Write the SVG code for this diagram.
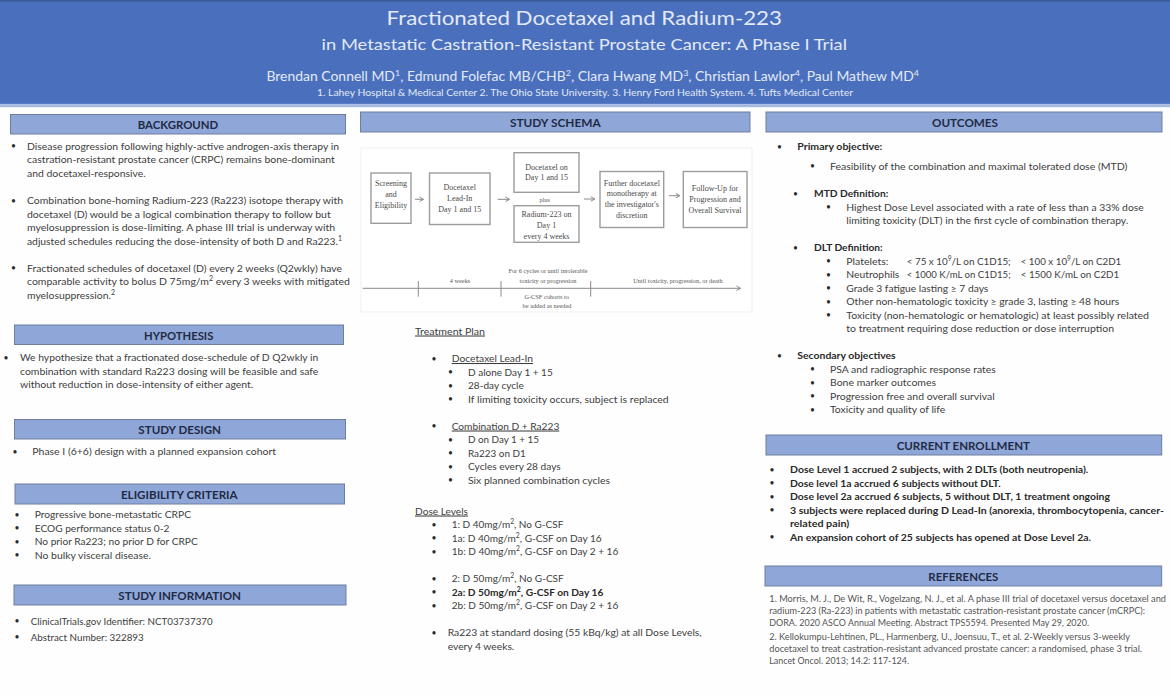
<svg xmlns="http://www.w3.org/2000/svg" width="1170" height="695" viewBox="0 0 1170 695">
<style>
text{font-family:Lato,"Open Sans","Liberation Sans",sans-serif}
.t{font-size:10.4px;fill:#3d3d3d}
.b{font-size:10.2px;fill:#2a2a2a;font-weight:700}
.p{font-size:8.5px;fill:#2a2a2a}
.r{font-size:9.5px;fill:#555}
.h{font-size:12px;font-weight:700;fill:#1f2a44;text-anchor:middle}
.w{fill:#e3e9f6;text-anchor:middle}
.u{text-decoration:underline}
.s{font-size:7px}
.bar{fill:#8fa7d8;stroke:#6f7d9e;stroke-width:1}
.box{fill:#fff;stroke:#9c9c9c;stroke-width:1.4}
.f{font-family:"Liberation Serif",serif;font-size:8px;fill:#4a4a4a;text-anchor:middle}
.g{font-family:"Liberation Serif",serif;font-size:6.3px;fill:#555;text-anchor:middle}
.c{stroke:#8a8a8a;stroke-width:1;fill:none}
</style>
<defs><marker id="a" markerWidth="6" markerHeight="6" refX="5" refY="3" orient="auto" markerUnits="userSpaceOnUse"><path d="M1 .8L5 3L1 5.2" fill="none" stroke="#8a8a8a" stroke-width="1"/></marker></defs>
<rect width="1170" height="695" fill="#fefefe"/>
<g id="header">
<rect width="1170" height="103" fill="#4a70bd"/>
<rect width="1170" height="1.5" fill="#3a5a9c"/>
<rect y="103" width="1170" height="1.2" fill="#5b7cc4"/>
<rect y="104.2" width="1170" height="3" fill="#a4b8e0"/>
<text class="w" x="584.3" y="24.5" font-size="20" textLength="395.4" lengthAdjust="spacingAndGlyphs">Fractionated Docetaxel and Radium-223</text>
<text class="w" x="584.3" y="50" font-size="16" textLength="525.4" lengthAdjust="spacingAndGlyphs">in Metastatic Castration-Resistant Prostate Cancer: A Phase I Trial</text>
<text class="w" x="592.7" y="81" font-size="12.5" textLength="652.6" lengthAdjust="spacingAndGlyphs">Brendan Connell MD<tspan font-size="8" dy="-5">1</tspan><tspan dy="5">, Edmund Folefac MB/CHB</tspan><tspan font-size="8" dy="-5">2</tspan><tspan dy="5">, Clara Hwang MD</tspan><tspan font-size="8" dy="-5">3</tspan><tspan dy="5">, Christian Lawlor</tspan><tspan font-size="8" dy="-5">4</tspan><tspan dy="5">, Paul Mathew MD</tspan><tspan font-size="8" dy="-5">4</tspan></text>
<text class="w" x="585" y="95.5" font-size="9.5" textLength="536" lengthAdjust="spacingAndGlyphs">1. Lahey Hospital &amp; Medical Center 2. The Ohio State University. 3. Henry Ford Health System. 4. Tufts Medical Center</text>
</g>
<g id="background">
<rect class="bar" x="10.5" y="114.5" width="335" height="19.5"/>
<text class="h" x="178" y="129" textLength="80.6" lengthAdjust="spacingAndGlyphs">BACKGROUND</text>
<text class="p" x="11" y="149">•</text><text class="t" x="27" y="149.5" textLength="312" lengthAdjust="spacingAndGlyphs">Disease progression following highly-active androgen-axis therapy in</text>
<text class="t" x="27" y="163" textLength="307.7" lengthAdjust="spacingAndGlyphs">castration-resistant prostate cancer (CRPC) remains bone-dominant</text>
<text class="t" x="27" y="176.5" textLength="118.7" lengthAdjust="spacingAndGlyphs">and docetaxel-responsive.</text>
<text class="p" x="11" y="203.5">•</text><text class="t" x="27" y="204" textLength="316" lengthAdjust="spacingAndGlyphs">Combination bone-homing Radium-223 (Ra223) isotope therapy with</text>
<text class="t" x="27" y="217.5" textLength="303.7" lengthAdjust="spacingAndGlyphs">docetaxel (D) would be a logical combination therapy to follow but</text>
<text class="t" x="27" y="231" textLength="308" lengthAdjust="spacingAndGlyphs">myelosuppression is dose-limiting. A phase III trial is underway with</text>
<text class="t" x="27" y="244.5" textLength="315" lengthAdjust="spacingAndGlyphs">adjusted schedules reducing the dose-intensity of both D and Ra223.<tspan class="s" dy="-4">1</tspan></text>
<text class="p" x="11" y="271">•</text><text class="t" x="27" y="271.5" textLength="315" lengthAdjust="spacingAndGlyphs">Fractionated schedules of docetaxel (D) every 2 weeks (Q2wkly) have</text>
<text class="t" x="27" y="285" textLength="323" lengthAdjust="spacingAndGlyphs">comparable activity to bolus D 75mg/m<tspan class="s" dy="-4">2</tspan><tspan dy="4">  every 3 weeks with mitigated</tspan></text>
<text class="t" x="27" y="298.5" textLength="88" lengthAdjust="spacingAndGlyphs">myelosuppression.<tspan class="s" dy="-4">2</tspan></text>
</g>
<g id="hypothesis">
<rect class="bar" x="14.5" y="325" width="329" height="19.5"/>
<text class="h" x="178.7" y="339.5" textLength="69.3" lengthAdjust="spacingAndGlyphs">HYPOTHESIS</text>
<text class="p" x="3.5" y="360.5">•</text><text class="t" x="20" y="361" textLength="298.3" lengthAdjust="spacingAndGlyphs">We hypothesize that a fractionated dose-schedule of D Q2wkly in</text>
<text class="t" x="20" y="374.5" textLength="298.3" lengthAdjust="spacingAndGlyphs">combination with standard Ra223 dosing will be feasible and safe</text>
<text class="t" x="20" y="388" textLength="233.3" lengthAdjust="spacingAndGlyphs">without reduction in dose-intensity of either agent.</text>
</g>
<g id="study-design">
<rect class="bar" x="14.5" y="419.5" width="331" height="19.5"/>
<text class="h" x="179.7" y="434" textLength="82.7" lengthAdjust="spacingAndGlyphs">STUDY DESIGN</text>
<text class="p" x="12.5" y="454.5">•</text><text class="t" x="32.3" y="455" textLength="243.7" lengthAdjust="spacingAndGlyphs">Phase I (6+6) design with a planned expansion cohort</text>
</g>
<g id="eligibility">
<rect class="bar" x="15" y="484" width="329.5" height="20"/>
<text class="h" x="179.3" y="498.5" textLength="116.7" lengthAdjust="spacingAndGlyphs">ELIGIBILITY CRITERIA</text>
<text class="p" x="14.5" y="517.5">•</text><text class="t" x="34.7" y="518" textLength="156.3" lengthAdjust="spacingAndGlyphs">Progressive bone-metastatic CRPC</text>
<text class="p" x="14.5" y="531">•</text><text class="t" x="34.7" y="531.5" textLength="134.6" lengthAdjust="spacingAndGlyphs">ECOG performance status 0-2</text>
<text class="p" x="14.5" y="544.5">•</text><text class="t" x="34.7" y="545" textLength="163" lengthAdjust="spacingAndGlyphs">No prior Ra223; no prior D for CRPC</text>
<text class="p" x="14.5" y="558">•</text><text class="t" x="34.7" y="558.5" textLength="116.3" lengthAdjust="spacingAndGlyphs">No bulky visceral disease.</text>
</g>
<g id="study-information">
<rect class="bar" x="14" y="585" width="332" height="20"/>
<text class="h" x="179.7" y="599.5" textLength="122.7" lengthAdjust="spacingAndGlyphs">STUDY INFORMATION</text>
<text class="p" x="14.5" y="624">•</text><text class="t" x="30.7" y="624.5" textLength="182" lengthAdjust="spacingAndGlyphs">ClinicalTrials.gov Identifier: NCT03737370</text>
<text class="p" x="14.5" y="640">•</text><text class="t" x="30.7" y="640.5" textLength="113" lengthAdjust="spacingAndGlyphs">Abstract Number: 322893</text>
</g>
<g id="study-schema">
<rect class="bar" x="360.5" y="112" width="389.5" height="20"/>
<text class="h" x="555.3" y="126.5" textLength="90.7" lengthAdjust="spacingAndGlyphs">STUDY SCHEMA</text>
<rect x="361" y="148" width="391" height="164" fill="#fff" stroke="#efefef"/>
</g>
<g id="node-screening"><rect class="box" x="371" y="173" width="40" height="50.3"/><text class="f" x="391" y="185.5">Screening</text><text class="f" x="391" y="196.5">and</text><text class="f" x="391" y="207.5">Eligibility</text></g>
<g id="node-leadin"><rect class="box" x="429.5" y="173" width="60.5" height="51.5"/><text class="f" x="459.7" y="190">Docetaxel</text><text class="f" x="459.7" y="201">Lead-In</text><text class="f" x="459.7" y="212">Day 1 and 15</text></g>
<g id="node-docetaxel"><rect class="box" x="514" y="152.7" width="65" height="39.6"/><text class="f" x="546.5" y="169.5">Docetaxel on</text><text class="f" x="546.5" y="180">Day 1 and 15</text></g>
<g id="node-plus"><text class="g" x="544.7" y="201.5">plus</text></g>
<g id="node-radium"><rect class="box" x="514" y="205.7" width="65" height="36.6"/><text class="f" x="546.5" y="216.5">Radium-223 on</text><text class="f" x="546.5" y="227.5">Day 1</text><text class="f" x="546.5" y="238.5">every 4 weeks</text></g>
<g id="node-further"><rect class="box" x="600" y="171.5" width="63.7" height="56"/><text class="f" x="631.8" y="185.5">Further docetaxel</text><text class="f" x="631.8" y="196.2">monotherapy at</text><text class="f" x="631.8" y="207">the investigator's</text><text class="f" x="631.8" y="218">discretion</text></g>
<g id="node-followup"><rect class="box" x="683.3" y="171.5" width="63.7" height="56"/><text class="f" x="715" y="191">Follow-Up for</text><text class="f" x="715" y="202">Progression and</text><text class="f" x="715" y="212.5">Overall Survival</text></g>
<g id="connectors">
<path class="c" marker-end="url(#a)" d="M415 199.3H423.5"/>
<path class="c" marker-end="url(#a)" d="M497.7 199.3H509.5"/>
<path class="c" marker-end="url(#a)" d="M584 199H594.8"/>
<path class="c" marker-end="url(#a)" d="M669 195.7H679.8"/>
<path class="c" marker-end="url(#a)" d="M362.7 288.3H740.5"/>
<path class="c" d="M418.3 281V296.7M501 281V296.7M590.7 281V296.7"/>
</g>
<g id="timeline-labels">
<text class="g" x="460" y="283.2">4 weeks</text>
<text class="g" x="548" y="273.3">For 6 cycles or until intolerable</text>
<text class="g" x="548" y="282.5">toxicity or progression</text>
<text class="g" x="546.7" y="299">G-CSF cohorts to</text>
<text class="g" x="547" y="308">be added as needed</text>
<text class="g" x="678" y="282.5">Until toxicity, progression, or death</text>
</g>
<g id="treatment-plan">
<text class="t u" x="415" y="334.5" textLength="70" lengthAdjust="spacingAndGlyphs">Treatment Plan</text>
<text class="p" x="431.5" y="361.5">•</text><text class="t u" x="451.7" y="362" textLength="81.3" lengthAdjust="spacingAndGlyphs">Docetaxel Lead-In</text>
<text class="p" x="448" y="375">•</text><text class="t" x="468" y="375.5" textLength="84.7" lengthAdjust="spacingAndGlyphs">D alone Day 1 + 15</text>
<text class="p" x="448" y="388.5">•</text><text class="t" x="468" y="389" textLength="55.7" lengthAdjust="spacingAndGlyphs">28-day cycle</text>
<text class="p" x="448" y="402">•</text><text class="t" x="468" y="402.5" textLength="200.7" lengthAdjust="spacingAndGlyphs">If limiting toxicity occurs, subject is replaced</text>
<text class="p" x="431.5" y="429">•</text><text class="t u" x="451.7" y="429.5" textLength="107.6" lengthAdjust="spacingAndGlyphs">Combination D + Ra223</text>
<text class="p" x="448" y="442.5">•</text><text class="t" x="468" y="443" textLength="71" lengthAdjust="spacingAndGlyphs">D on Day 1 + 15</text>
<text class="p" x="448" y="456">•</text><text class="t" x="468" y="456.5" textLength="57.7" lengthAdjust="spacingAndGlyphs">Ra223 on D1</text>
<text class="p" x="448" y="469.5">•</text><text class="t" x="468" y="470" textLength="92.7" lengthAdjust="spacingAndGlyphs">Cycles every 28 days</text>
<text class="p" x="448" y="483">•</text><text class="t" x="468" y="483.5" textLength="142" lengthAdjust="spacingAndGlyphs">Six planned combination cycles</text>
<text class="t u" x="415" y="514.5" textLength="53" lengthAdjust="spacingAndGlyphs">Dose Levels</text>
<text class="p" x="431.5" y="527.5">•</text><text class="t" x="451.7" y="528" textLength="111.6" lengthAdjust="spacingAndGlyphs">1: D 40mg/m<tspan class="s" dy="-4">2</tspan><tspan dy="4">, No G-CSF</tspan></text>
<text class="p" x="431.5" y="541">•</text><text class="t" x="451.7" y="541.5" textLength="150" lengthAdjust="spacingAndGlyphs">1a: D 40mg/m<tspan class="s" dy="-4">2</tspan><tspan dy="4">, G-CSF on Day 16</tspan></text>
<text class="p" x="431.5" y="554.5">•</text><text class="t" x="451.7" y="555" textLength="166.6" lengthAdjust="spacingAndGlyphs">1b: D 40mg/m<tspan class="s" dy="-4">2</tspan><tspan dy="4">, G-CSF on Day 2 + 16</tspan></text>
<text class="p" x="431.5" y="581.5">•</text><text class="t" x="451.7" y="582" textLength="112" lengthAdjust="spacingAndGlyphs">2: D 50mg/m<tspan class="s" dy="-4">2</tspan><tspan dy="4">, No G-CSF</tspan></text>
<text class="p" x="431.5" y="595">•</text><text class="b" x="451.7" y="595.5" textLength="151.6" lengthAdjust="spacingAndGlyphs">2a: D 50mg/m<tspan class="s" dy="-4">2</tspan><tspan dy="4">, G-CSF on Day 16</tspan></text>
<text class="p" x="431.5" y="608.5">•</text><text class="t" x="451.7" y="609" textLength="166.6" lengthAdjust="spacingAndGlyphs">2b: D 50mg/m<tspan class="s" dy="-4">2</tspan><tspan dy="4">, G-CSF on Day 2 + 16</tspan></text>
<text class="p" x="431.5" y="635.5">•</text><text class="t" x="447.7" y="636" textLength="254" lengthAdjust="spacingAndGlyphs">Ra223 at standard dosing (55 kBq/kg) at all Dose Levels,</text>
<text class="t" x="447.7" y="649.5" textLength="66.6" lengthAdjust="spacingAndGlyphs">every 4 weeks.</text>
</g>
<g id="outcomes">
<rect class="bar" x="766" y="112" width="396" height="20"/>
<text class="h" x="965" y="126.5" textLength="66" lengthAdjust="spacingAndGlyphs">OUTCOMES</text>
<text class="p" x="777" y="149.5">•</text><text class="b" x="797.3" y="150" textLength="85" lengthAdjust="spacingAndGlyphs">Primary objective:</text>
<text class="p" x="810" y="169">•</text><text class="t" x="830" y="169.5" textLength="297.3" lengthAdjust="spacingAndGlyphs">Feasibility of the combination and maximal tolerated dose (MTD)</text>
<text class="p" x="793" y="196.5">•</text><text class="b" x="814" y="197" textLength="74.3" lengthAdjust="spacingAndGlyphs">MTD Definition:</text>
<text class="p" x="826" y="210">•</text><text class="t" x="846.3" y="210.5" textLength="297.4" lengthAdjust="spacingAndGlyphs">Highest Dose Level associated with a rate of less than a 33% dose</text>
<text class="t" x="846.3" y="224" textLength="282" lengthAdjust="spacingAndGlyphs">limiting toxicity (DLT) in the first cycle of combination therapy.</text>
<text class="p" x="793" y="250.5">•</text><text class="b" x="814" y="251" textLength="68.7" lengthAdjust="spacingAndGlyphs">DLT Definition:</text>
<text class="p" x="826" y="264">•</text><text class="t" x="846.3" y="264.5" textLength="42" lengthAdjust="spacingAndGlyphs">Platelets:</text>
<text class="t" x="906.7" y="264.5" textLength="104" lengthAdjust="spacingAndGlyphs">&lt; 75 x 10<tspan class="s" dy="-4">9</tspan><tspan dy="4">/L on C1D15;</tspan></text>
<text class="t" x="1020.7" y="264.5" textLength="100.6" lengthAdjust="spacingAndGlyphs">&lt; 100 x 10<tspan class="s" dy="-4">9</tspan><tspan dy="4">/L on C2D1</tspan></text>
<text class="p" x="826" y="277.5">•</text><text class="t" x="846.3" y="278" textLength="53" lengthAdjust="spacingAndGlyphs">Neutrophils</text>
<text class="t" x="906.7" y="278" textLength="104" lengthAdjust="spacingAndGlyphs">&lt; 1000 K/mL on C1D15;</text>
<text class="t" x="1020.7" y="278" textLength="98.6" lengthAdjust="spacingAndGlyphs">&lt; 1500 K/mL on C2D1</text>
<text class="p" x="826" y="291">•</text><text class="t" x="846.3" y="291.5" textLength="142" lengthAdjust="spacingAndGlyphs">Grade 3 fatigue lasting ≥ 7 days</text>
<text class="p" x="826" y="304.5">•</text><text class="t" x="846.3" y="305" textLength="273" lengthAdjust="spacingAndGlyphs">Other non-hematologic toxicity ≥ grade 3, lasting ≥ 48 hours</text>
<text class="p" x="826" y="318">•</text><text class="t" x="846.3" y="318.5" textLength="302.7" lengthAdjust="spacingAndGlyphs">Toxicity (non-hematologic or hematologic) at least possibly related</text>
<text class="t" x="846.3" y="332" textLength="267.7" lengthAdjust="spacingAndGlyphs">to treatment requiring dose reduction or dose interruption</text>
<text class="p" x="777" y="358.5">•</text><text class="b" x="797.3" y="359" textLength="98.4" lengthAdjust="spacingAndGlyphs">Secondary objectives</text>
<text class="p" x="810" y="372">•</text><text class="t" x="830" y="372.5" textLength="165.7" lengthAdjust="spacingAndGlyphs">PSA and radiographic response rates</text>
<text class="p" x="810" y="385.5">•</text><text class="t" x="830" y="386" textLength="106" lengthAdjust="spacingAndGlyphs">Bone marker outcomes</text>
<text class="p" x="810" y="399">•</text><text class="t" x="830" y="399.5" textLength="164.7" lengthAdjust="spacingAndGlyphs">Progression free and overall survival</text>
<text class="p" x="810" y="412.5">•</text><text class="t" x="830" y="413" textLength="115.3" lengthAdjust="spacingAndGlyphs">Toxicity and quality of life</text>
</g>
<g id="current-enrollment">
<rect class="bar" x="766" y="435" width="395.7" height="20"/>
<text class="h" x="963.3" y="449.5" textLength="133.3" lengthAdjust="spacingAndGlyphs">CURRENT ENROLLMENT</text>
<text class="p" x="769.5" y="472.5">•</text><text class="b" x="790" y="473" textLength="298.3" lengthAdjust="spacingAndGlyphs">Dose Level 1 accrued 2 subjects, with 2 DLTs (both neutropenia).</text>
<text class="p" x="769.5" y="486">•</text><text class="b" x="790" y="486.5" textLength="210.7" lengthAdjust="spacingAndGlyphs">Dose level 1a accrued 6 subjects without DLT.</text>
<text class="p" x="769.5" y="499.5">•</text><text class="b" x="790" y="500" textLength="320" lengthAdjust="spacingAndGlyphs">Dose level 2a accrued 6 subjects, 5 without DLT, 1 treatment ongoing</text>
<text class="p" x="769.5" y="513">•</text><text class="b" x="790" y="513.5" textLength="374" lengthAdjust="spacingAndGlyphs">3 subjects were replaced during D Lead-In (anorexia, thrombocytopenia, cancer-</text>
<text class="b" x="790" y="527" textLength="59.3" lengthAdjust="spacingAndGlyphs">related pain)</text>
<text class="p" x="769.5" y="540">•</text><text class="b" x="790" y="540.5" textLength="301" lengthAdjust="spacingAndGlyphs">An expansion cohort of 25 subjects has opened at Dose Level 2a.</text>
</g>
<g id="references">
<rect class="bar" x="765" y="566" width="396.7" height="20"/>
<text class="h" x="963.3" y="580.5" textLength="70" lengthAdjust="spacingAndGlyphs">REFERENCES</text>
<text class="r" x="769.3" y="601.5" textLength="396.7" lengthAdjust="spacingAndGlyphs">1. Morris, M. J., De Wit, R., Vogelzang, N. J., et al. A phase III trial of docetaxel versus docetaxel and</text>
<text class="r" x="769.3" y="613.5" textLength="375.7" lengthAdjust="spacingAndGlyphs">radium-223 (Ra-223) in patients with metastatic castration-resistant prostate cancer (mCRPC):</text>
<text class="r" x="769.3" y="625.5" textLength="319.7" lengthAdjust="spacingAndGlyphs">DORA. 2020 ASCO Annual Meeting. Abstract TPS5594. Presented May 29, 2020.</text>
<text class="r" x="769.3" y="640" textLength="360.7" lengthAdjust="spacingAndGlyphs">2. Kellokumpu-Lehtinen, PL., Harmenberg, U., Joensuu, T., et al. 2-Weekly versus 3-weekly</text>
<text class="r" x="769.3" y="652" textLength="372.7" lengthAdjust="spacingAndGlyphs">docetaxel to treat castration-resistant advanced prostate cancer: a randomised, phase 3 trial.</text>
<text class="r" x="769.3" y="664" textLength="139.7" lengthAdjust="spacingAndGlyphs">Lancet Oncol. 2013; 14.2: 117-124.</text>
</g>
</svg>
